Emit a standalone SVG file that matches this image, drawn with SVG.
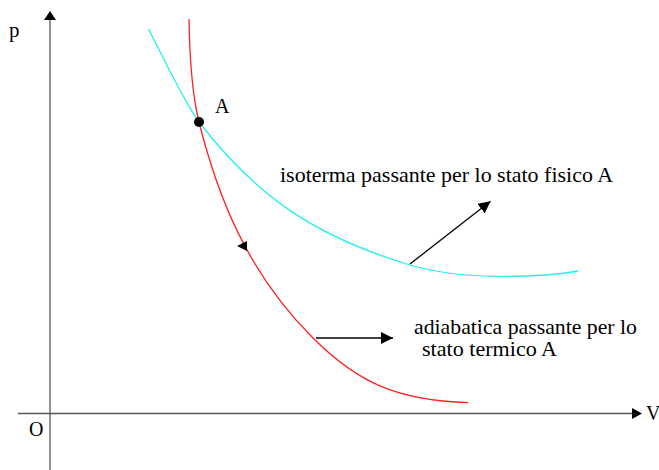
<svg xmlns="http://www.w3.org/2000/svg" width="659" height="470" viewBox="0 0 659 470">
<style>
text{font-family:"Liberation Serif","DejaVu Serif","Times New Roman",serif;fill:#000}
.axis{stroke:#555;stroke-width:1.3;fill:none}
.arr{stroke:#000;stroke-width:1.3;fill:none}
</style>
<defs>
<marker id="ah" markerWidth="12" markerHeight="12" refX="10" refY="5" orient="auto" markerUnits="userSpaceOnUse" viewBox="0 0 10 10">
<path d="M0,0 L10,5 L0,10 Z" fill="#000"/>
</marker>
</defs>
<rect width="659" height="470" fill="#fff"/>
<g id="axes">
<line class="axis" x1="50" y1="470" x2="50" y2="19"/>
<path d="M44,20 L50,11 L56,20 Z" fill="#000"/>
<line class="axis" x1="18" y1="413.5" x2="633" y2="413.5"/>
<path d="M632,408 L642,413.5 L632,419 Z" fill="#000"/>
<text x="9" y="37" font-size="21" font-family="Liberation Serif, DejaVu Serif, serif">p</text>
<text x="29" y="436" font-size="20" font-family="Liberation Serif, DejaVu Serif, serif">O</text>
<text x="646" y="420" font-size="20" font-family="Liberation Serif, DejaVu Serif, serif">V</text>
</g>
<g id="isoterma">
<path d="M148.5,29 C165.5,61.3 182,98.2 199,122 C259,200 320,238 410,265 C465,281.5 545,277 578.3,271" fill="none" stroke="#22f0f0" stroke-width="1.3"/>
</g>
<g id="adiabatica">
<path d="M189,19 C189.5,50 191,90 199,122 C218,198 248,273 313,338 C358,383 398,400.6 468,402.7" fill="none" stroke="#ff2020" stroke-width="1.3"/>
<path d="M237,246 L247,241 L247,251 Z" fill="#000"/>
</g>
<g id="puntoA">
<circle cx="199" cy="122" r="5" fill="#000"/>
<text x="215" y="113" font-size="20" font-family="Liberation Serif, DejaVu Serif, serif">A</text>
</g>
<g id="connectors">
<line class="arr" x1="410" y1="264" x2="490.5" y2="201.2" marker-end="url(#ah)"/>
<line class="arr" x1="316" y1="338" x2="393" y2="338" marker-end="url(#ah)"/>
</g>
<g id="labels">
<text x="280" y="182" font-size="22" font-family="Liberation Serif, DejaVu Serif, serif" textLength="333" lengthAdjust="spacingAndGlyphs">isoterma passante per lo stato fisico A</text>
<text x="414" y="334" font-size="21" font-family="Liberation Serif, DejaVu Serif, serif" textLength="223" lengthAdjust="spacingAndGlyphs">adiabatica passante per lo</text>
<text x="422" y="356" font-size="21" font-family="Liberation Serif, DejaVu Serif, serif" textLength="135" lengthAdjust="spacingAndGlyphs">stato termico A</text>
</g>
</svg>
